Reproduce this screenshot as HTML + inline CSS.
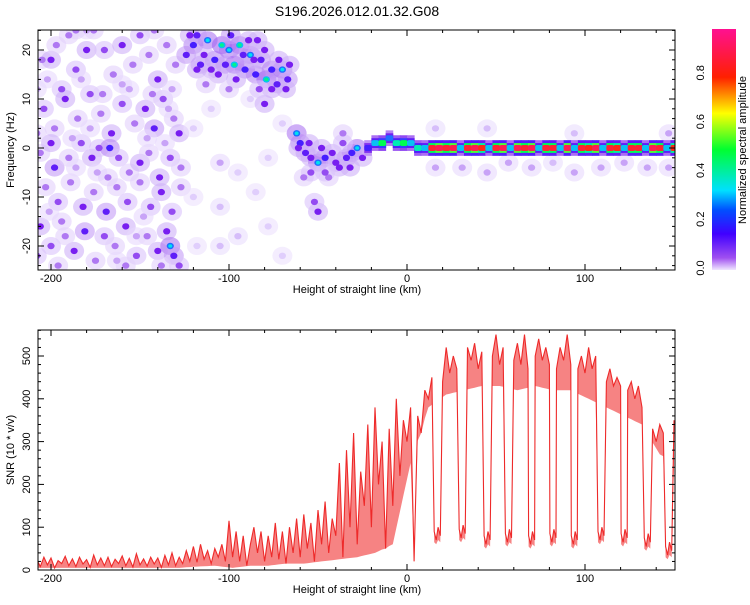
<!DOCTYPE html>
<html><head><meta charset="utf-8"><style>
body{margin:0;background:#fff}
svg text{font-family:"Liberation Sans",sans-serif;fill:#000}
</style></head><body>
<svg id="c" width="750" height="600" viewBox="0 0 750 600" xmlns="http://www.w3.org/2000/svg">
<defs><linearGradient id="cb" x1="0" y1="1" x2="0" y2="0">
<stop offset="0" stop-color="#f0e6ff"/><stop offset="0.05" stop-color="#a050f0"/><stop offset="0.15" stop-color="#4000ff"/><stop offset="0.25" stop-color="#0050ff"/><stop offset="0.33" stop-color="#00e0ff"/><stop offset="0.5" stop-color="#00ff30"/><stop offset="0.65" stop-color="#ffff00"/><stop offset="0.8" stop-color="#ff2000"/><stop offset="1" stop-color="#ff1090"/></linearGradient>
<clipPath id="cp1"><rect x="38" y="30" width="637" height="240"/></clipPath>
<clipPath id="cp2"><rect x="38" y="330" width="637" height="240"/></clipPath></defs>
<text x="357" y="16" font-size="14" text-anchor="middle">S196.2026.012.01.32.G08</text>
<g id="spec" clip-path="url(#cp1)"></g>
<g id="snr" clip-path="url(#cp2)"></g>
<g id="axes"></g>
<rect x="712" y="29" width="24" height="241" fill="url(#cb)"/>
<text transform="translate(742,150) rotate(-90)" font-size="11" text-anchor="middle" dy="4">Normalized spectral amplitude</text>
<text transform="translate(14,150) rotate(-90)" font-size="11" text-anchor="middle">Frequency (Hz)</text>
<text transform="translate(14,450) rotate(-90)" font-size="11" text-anchor="middle">SNR (10 * v/v)</text>
<text x="357" y="293" font-size="11" text-anchor="middle">Height of straight line (km)</text>
<text x="357" y="593" font-size="11" text-anchor="middle">Height of straight line (km)</text>
</svg>
<script>
const xTicks=[-200,-100,0,100];
const fTicks=[-20,-10,0,10,20];
const snrTicks=[0,100,200,300,400,500];
const cbTicks=[0.0,0.2,0.4,0.6,0.8];
const cbLabels=["0.0","0.2","0.4","0.6","0.8"];
// noise blobs [x, freq, amp]
const noiseBlobs=[[-205,18,.2],[-200,18,.3],[-194,12,.25],[-190,23,.2],[-186,16,.25],[-180,20,.3],[-176,24,.2],[-170,20,.25],[-165,15,.2],[-160,21,.3],[-154,17,.2],[-150,23,.25],[-145,19,.2],[-140,14,.3],[-135,21,.2],[-130,17,.2],
[-204,8,.25],[-198,4,.2],[-192,10,.3],[-185,6,.2],[-178,11,.25],[-172,7,.2],[-166,3,.3],[-160,9,.25],[-153,5,.2],[-147,8,.3],[-142,4,.35],[-137,10,.25],[-131,6,.2],[-128,3,.3],
[-206,-1,.2],[-200,1,.3],[-198,-4,.35],[-190,-2,.2],[-183,1,.25],[-177,-2,.3],[-173,0,.25],[-167,0,.4],[-162,-2,.25],[-156,-5,.2],[-150,-3,.3],[-145,-1,.2],[-139,-6,.3],[-133,-2,.25],[-127,-4,.2],
[-203,-8,.2],[-196,-11,.25],[-189,-7,.2],[-182,-12,.3],[-176,-9,.2],[-169,-13,.35],[-163,-8,.2],[-157,-11,.25],[-150,-7,.2],[-144,-12,.25],[-138,-9,.3],[-132,-13,.25],[-127,-8,.2],
[-206,-16,.3],[-200,-20,.25],[-194,-15,.2],[-187,-21,.3],[-181,-17,.35],[-175,-23,.2],[-170,-18,.25],[-164,-20,.2],[-158,-16,.3],[-152,-22,.25],[-146,-18,.2],[-140,-21,.3],[-135,-17,.3],[-133,-20,.45],[-131,-22,.35],[-128,-24,.25],
[-202,14,.15],[-188,2,.15],[-174,-5,.15],[-160,13,.15],[-148,-14,.15],[-136,1,.15],[-196,-24,.2],[-180,24,.15],[-158,-24,.2],[-142,24,.2],
[-208,12,.15],[-197,21,.2],[-183,14,.15],[-171,11,.2],[-156,12,.15],[-143,11,.2],[-132,12,.15],[-201,-13,.15],[-186,-4,.15],[-168,-6,.2],[-152,-18,.15],[-138,-24,.2],[-192,-18,.2],[-178,4,.15],[-163,-23,.15],[-146,2,.15],[-134,8,.15],[-186,24,.2],[-208,-22,.25],[-208,3,.2],
[-120,-10,.1],[-118,-20,.1],[-105,-3,.15],[-105,-12,.12],[-105,-20,.12],[-95,-5,.1],[-95,-18,.12],[-78,-2,.1],[-78,-16,.1],[-70,5,.1],[-70,-22,.1],[-110,8,.1],[-88,10,.1],[-120,4,.1],[-85,-9,.1],
[-124,19,.35],[-120,21,.4],[-116,17,.35],[-112,22,.45],[-108,18,.4],[-104,21,.5],[-100,20,.45],[-97,17,.5],[-94,21,.5],[-91,16,.4],[-88,19,.45],[-85,15,.4],[-82,18,.35],[-79,14,.5],[-76,16,.4],[-73,13,.35],[-70,16,.45],[-67,14,.35],[-118,16,.3],[-106,15,.3],[-96,14,.3],[-84,22,.3],[-122,23,.3],
[-118,23,.35],[-114,19,.3],[-110,16,.3],[-102,17,.35],[-99,23,.35],[-92,19,.35],[-89,22,.3],[-86,18,.3],[-80,20,.3],[-76,12,.3],[-72,18,.3],[-68,12,.3],[-80,9,.3],[-83,12,.25],[-113,13,.2],[-100,12,.2],[-66,17,.3],
[-62,3,.45],[-60,1,.4],[-57,-1,.35],[-54,-2,.3],[-50,-3,.45],[-46,-2,.4],[-42,-1,.3],[-38,-4,.3],[-34,-2,.35],[-31,-1,.4],[-28,0,.45],[-25,-2,.3],[-50,-13,.3],[-52,-11,.25],[-44,-6,.2],[-36,3,.2],[-58,-6,.2],
[-61,0,.3],[-55,1,.3],[-48,0,.3],[-40,-3,.3],[-32,-4,.3],[-46,-5,.25],[-54,-5,.25],[-36,1,.25],
[16,-4,.15],[31,-4,.15],[45,-5,.15],[57,-3,.15],[70,-4,.15],[82,-3,.12],[94,-5,.15],[109,-4,.15],[122,-3,.15],[135,-4,.15],[147,3,.15],[16,4,.12],[45,4,.12],[94,3,.12],[147,-4,.15]];
// ridge near 0 Hz
const ridgeX=[-22,-18,-14,-10,-6,-2,2,6,10,14,18,22,26,30,34,38,42,46,50,54,58,62,66,70,74,78,82,86,90,94,98,102,106,110,114,118,122,126,130,134,138,142,146,150];
const ridgeF=[0,1,1,2,1,1,1,0,0,0,0,0,0,0,0,0,0,0,0,0,0,0,0,0,0,0,0,0,0,0,0,0,0,0,0,0,0,0,0,0,0,0,0,0];
const ridgeA=[.4,.5,.6,.45,.55,.6,.5,.55,.5,.85,.9,.85,.9,.5,.85,.9,.8,.5,.85,.9,.5,.9,.85,.9,.5,.85,.85,.5,.9,.5,.85,.8,.9,.5,.85,.8,.5,.85,.85,.5,.9,.85,.5,.8];
// SNR every 2 km starting at -208
const snrStart=-208;
const snrValues=[25,8,30,12,28,5,22,15,32,10,26,8,30,14,24,6,35,12,28,10,30,8,25,15,33,10,27,7,38,12,26,9,30,14,28,6,34,12,40,10,30,15,45,20,
55,18,60,25,45,15,50,30,60,20,
115,30,90,20,80,10,60,100,40,90,
20,80,30,110,25,90,15,100,40,120,
30,130,50,110,20,140,60,160,40,120,
80,250,30,280,100,320,60,230,150,340,
100,380,200,300,50,330,150,400,220,350,
300,380,20,360,320,420,400,450,380,470,
440,520,460,500,470,540,480,520,490,530,
470,510,490,540,500,550,480,520,500,540,
490,530,480,550,470,520,500,540,490,520,
480,510,470,520,490,550,480,510,470,500,
460,520,470,500,450,480,440,470,430,450,
430,460,420,440,400,430,380,400,360,330,
300,340,320,310,330,350];
// lower envelope of the dense noise, every 10 km from -208
const snrLowStart=-208;
const snrLow=[5,5,5,5,5,5,5,5,5,8, 10,5,10,10,15, 15,20,25,30,40, 60,250,380,410,420, 430,430,420,430,420, 420,400,380,360, 340,270,250];
const dipX=[17,31,45,57,70,82,94,109,122,135,147];
const dipSNR=[80,85,70,75,70,75,70,80,75,65,45];

const NS='http://www.w3.org/2000/svg';
const X=v=>407+(v)*1.78;
const F=f=>148-f*4.9;
const S=s=>570-s*0.428;
function mk(t,a,p){const e=document.createElementNS(NS,t);for(const k in a)e.setAttribute(k,a[k]);(p||document.getElementById('c')).appendChild(e);return e;}
function col(a){const st=[[0,[246,240,255]],[.1,[224,206,252]],[.2,[175,120,242]],[.3,[120,30,240]],[.4,[70,30,255]],[.45,[30,110,255]],[.52,[0,225,240]],[.6,[0,255,80]],[.7,[255,255,0]],[.8,[255,40,20]],[1,[255,16,144]]];
for(let i=1;i<st.length;i++){if(a<=st[i][0]){const t=(a-st[i-1][0])/(st[i][0]-st[i-1][0]);const c=st[i-1][1].map((v,j)=>Math.round(v+(st[i][1][j]-v)*t));return`rgb(${c})`;}}return'rgb(255,16,144)';}
const spec=document.getElementById('spec');
noiseBlobs.forEach(b=>{
 const h=mk('ellipse',{cx:X(b[0]),cy:F(b[1]),rx:10,ry:9,fill:col(b[2]*0.45),opacity:0.6},spec);
 
 
});
noiseBlobs.forEach(b=>{
 const e=mk('ellipse',{cx:X(b[0]),cy:F(b[1]),rx:3.6,ry:3.2,fill:col(b[2])},spec);
 
 
 if(b[2]>=0.45){const k=mk('ellipse',{cx:X(b[0]),cy:F(b[1]),rx:2,ry:1.8,fill:col(b[2]+0.07)},spec);
 
 }
});
[[0.42,1.6],[0.7,1.0],[1,0.6]].forEach(([m,hf])=>{
 ridgeX.forEach((x,i)=>{
  const a=ridgeA[i]*m;
  const e=mk('rect',{x:X(x-2),y:F(ridgeF[i]+hf),width:4*1.78+0.5,height:2*hf*4.9,rx:m==1?2:0,fill:col(a)},spec);
  
  
 });
});
// SNR line
const lowAt=x=>{const t=(x-snrLowStart)/10;const i=Math.max(0,Math.min(snrLow.length-2,Math.floor(t)));const f=Math.min(1,Math.max(0,t-i));return snrLow[i]+(snrLow[i+1]-snrLow[i])*f;};
let pts=[];
snrValues.forEach((v,i)=>{const x=snrStart+2*i;if(!dipX.some(d=>Math.abs(d-x)<2))pts.push([x,v,Math.min(v,lowAt(x))]);});
dipX.forEach((d,i)=>{const l=dipSNR[i];pts.push([d-1.7,l+10,l-15]);pts.push([d-0.6,l-10,l-20]);pts.push([d+0.5,l+20,l-10]);pts.push([d+1.7,l,l-15]);});
pts.sort((a,b)=>a[0]-b[0]);
const snrG=document.getElementById('snr');
const band=mk('polygon',{points:pts.map(p=>X(p[0]).toFixed(1)+','+S(p[1]).toFixed(1)).concat(pts.slice().reverse().map(p=>X(p[0]).toFixed(1)+','+S(p[2]).toFixed(1))).join(' '),fill:'#f03030',opacity:0.6},snrG);


const ln=mk('polyline',{points:pts.map(p=>X(p[0]).toFixed(1)+','+S(p[1]).toFixed(1)).join(' '),fill:'none',stroke:'#ee2a2a','stroke-width':1.1},snrG);


// axes
const ax=document.getElementById('axes');
function frame(y0,y1,name){const r=mk('rect',{x:38,y:y0,width:637,height:y1-y0,fill:'none',stroke:'#000','stroke-width':1},ax);
 for(let v=-200;v<=140;v+=20){const maj=v%100==0,L=maj?6:3;mk('line',{x1:X(v),x2:X(v),y1:y1,y2:y1-L,stroke:'#000'},ax);mk('line',{x1:X(v),x2:X(v),y1:y0,y2:y0+L,stroke:'#000'},ax);}
 xTicks.forEach(v=>{const t=mk('text',{x:X(v),y:y1+12,'font-size':11,'text-anchor':'middle'},ax);t.textContent=v;});}
frame(30,270,'top-plot-frame');frame(330,570,'bottom-plot-frame');
for(let f=-24;f<=24;f+=2){const L=f%10==0?6:3;mk('line',{x1:38,x2:38+L,y1:F(f),y2:F(f),stroke:'#000'},ax);mk('line',{x1:675,x2:675-L,y1:F(f),y2:F(f),stroke:'#000'},ax);}
fTicks.forEach(f=>{const t=mk('text',{transform:`translate(30,${F(f)}) rotate(-90)`,'font-size':11,'text-anchor':'middle'},ax);t.textContent=f;});
for(let s=0;s<=560;s+=20){const L=s%100==0?6:3;mk('line',{x1:38,x2:38+L,y1:S(s),y2:S(s),stroke:'#000'},ax);mk('line',{x1:675,x2:675-L,y1:S(s),y2:S(s),stroke:'#000'},ax);}
snrTicks.forEach(s=>{const t=mk('text',{transform:`translate(30,${S(s)}) rotate(-90)`,'font-size':11,'text-anchor':'middle'},ax);t.textContent=s;});
cbTicks.forEach((v,i)=>{const y=268-v*244;const t=mk('text',{transform:`translate(704,${y}) rotate(-90)`,'font-size':11,'text-anchor':'middle'},ax);t.textContent=cbLabels[i];});
</script>
</body></html>
